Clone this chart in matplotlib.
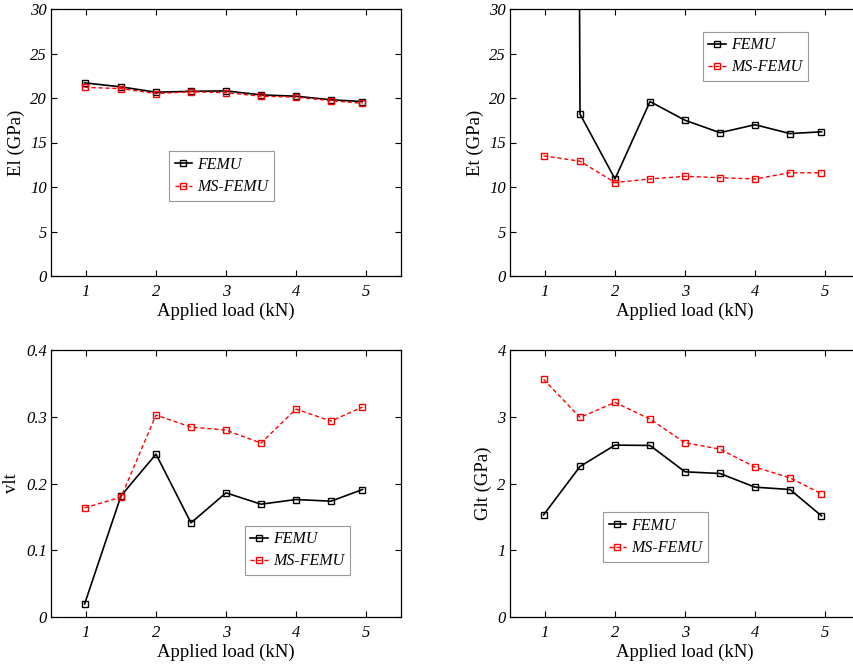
import matplotlib
matplotlib.use("Agg")
import matplotlib.pyplot as plt

plt.rcParams['font.family'] = ['Liberation Serif', 'DejaVu Serif']

# applied load (kN)
load = [0.98, 1.5, 2, 2.5, 3, 3.5, 4, 4.5, 4.95]

el_femu = [21.7, 21.25, 20.65, 20.75, 20.8, 20.35, 20.2, 19.8, 19.6]
el_ms = [21.2, 21.05, 20.5, 20.7, 20.6, 20.2, 20.1, 19.7, 19.4]

# first FEMU value for Et is far above the plotted range
et_femu = [1000, 18.2, 10.9, 19.6, 17.5, 16.1, 17.0, 16.0, 16.2]
et_ms = [13.5, 12.9, 10.5, 10.9, 11.2, 11.05, 10.9, 11.6, 11.6]

vlt_femu = [0.0195, 0.1815, 0.244, 0.141, 0.186, 0.169, 0.176, 0.1735, 0.191]
vlt_ms = [0.1635, 0.1795, 0.3025, 0.2845, 0.28, 0.2605, 0.3115, 0.2935, 0.3145]

glt_femu = [1.53, 2.255, 2.575, 2.57, 2.175, 2.15, 1.945, 1.91, 1.515]
glt_ms = [3.56, 2.99, 3.215, 2.965, 2.61, 2.515, 2.245, 2.085, 1.845]

W, H = 854, 670
fig = plt.figure(figsize=(W / 100, H / 100), dpi=100)


def make_axes(x0, y_top, ylab, femu, ms, yticks, yticklabels, leg_anchor):
    ax = fig.add_axes([x0 / W, (H - y_top - 267) / H, 350 / W, 267 / H])
    ax.plot(load, femu, color='black', lw=1.2, marker='s', ms=5,
            mfc='none', mew=1.0, label='FEMU')
    ax.plot(load, ms, color='red', lw=1.0, ls='--', dashes=(3, 2),
            marker='s', ms=5, mfc='none', mew=1.0, label='MS-FEMU')
    ax.set_xlim(0.5, 5.5)
    ax.set_ylim(yticks[0], yticks[-1])
    ax.set_xticks([1, 2, 3, 4, 5])
    ax.set_xticklabels(['1', '2', '3', '4', '5'], fontstyle='italic', fontsize=12)
    ax.set_yticks(yticks)
    ax.set_yticklabels(yticklabels, fontstyle='italic', fontsize=12)
    ax.tick_params(direction='in', top=True, right=True, length=4, width=0.8)
    ax.tick_params(axis='x', pad=6)
    ax.tick_params(axis='y', pad=3)
    for s in ax.spines.values():
        s.set_linewidth(0.9)
    ax.set_xlabel('Applied load (kN)', fontsize=13.5, labelpad=2)
    ax.set_ylabel(ylab, fontsize=13.5, labelpad=4)
    leg = ax.legend(loc='lower left', bbox_to_anchor=leg_anchor, fancybox=False,
                    framealpha=1, edgecolor='#999999', fontsize=11.5,
                    handlelength=1.1, borderpad=0.35, labelspacing=0.4,
                    handletextpad=0.3, borderaxespad=0)
    for t in leg.get_texts():
        t.set_fontstyle('italic')
    leg.get_frame().set_linewidth(0.8)
    return ax


make_axes(51, 9, 'El (GPa)', el_femu, el_ms, [0, 5, 10, 15, 20, 25, 30],
          ['0', '5', '10', '15', '20', '25', '30'], (0.337, 0.281))
make_axes(510, 9, 'Et (GPa)', et_femu, et_ms, [0, 5, 10, 15, 20, 25, 30],
          ['0', '5', '10', '15', '20', '25', '30'], (0.551, 0.730))
make_axes(51, 350, 'vlt', vlt_femu, vlt_ms, [0, 0.1, 0.2, 0.3, 0.4],
          ['0', '0.1', '0.2', '0.3', '0.4'], (0.554, 0.157))
make_axes(510, 350, 'Glt (GPa)', glt_femu, glt_ms, [0, 1, 2, 3, 4],
          ['0', '1', '2', '3', '4'], (0.266, 0.206))

fig.savefig('out.png', dpi=100)
